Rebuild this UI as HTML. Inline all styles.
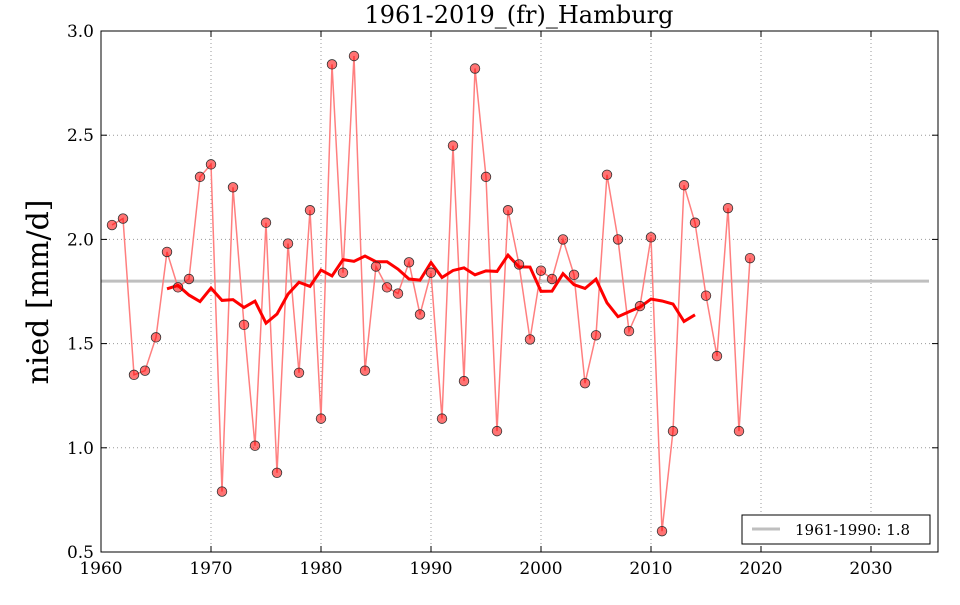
<!DOCTYPE html>
<html><head><meta charset="utf-8"><style>
html,body{margin:0;padding:0;background:#fff;}
svg text{font-family:"DejaVu Serif","Liberation Serif",serif;}
</style></head><body>
<svg id="s" width="960" height="600" xmlns="http://www.w3.org/2000/svg"></svg>
<script>
const d=[2.069,2.10,1.35,1.37,1.53,1.94,1.77,1.81,2.30,2.36,0.79,2.25,1.59,1.01,2.08,0.88,1.98,1.36,2.14,1.14,2.84,1.84,2.88,1.37,1.87,1.77,1.74,1.89,1.64,1.84,1.14,2.45,1.32,2.82,2.30,1.08,2.14,1.88,1.52,1.85,1.81,2.00,1.83,1.31,1.54,2.31,2.00,1.56,1.68,2.01,0.60,1.08,2.26,2.08,1.73,1.44,2.15,1.08,1.91];
const L=101,R=938,T=31,B=552;
const X=y=>L+(y-1960)*11, Y=v=>B-(v-0.5)*208.4;
let s='';
// grid
for(let y=1970;y<=2030;y+=10)s+=`<line x1="${X(y)}" y1="${T}" x2="${X(y)}" y2="${B}" stroke="#999" stroke-dasharray="1,3"/>`;
for(let v=1;v<=2.5;v+=0.5)s+=`<line x1="${L}" y1="${Y(v)}" x2="${R}" y2="${Y(v)}" stroke="#999" stroke-dasharray="1,3"/>`;
s+=`<line x1="${L}" y1="${Y(1.8)}" x2="${929}" y2="${Y(1.8)}" stroke="#bfbfbf" stroke-width="3"/>`;
let p=d.map((v,i)=>`${X(1961+i)},${Y(v)}`).join(' ');
s+=`<polyline points="${p}" fill="none" stroke="#ff7f7f" stroke-width="1.5"/>`;
let m=[];for(let i=5;i<d.length-5;i++){let a=0;for(let k=-5;k<=5;k++)a+=d[i+k];m.push(`${X(1961+i)},${Y(a/11)}`);}
s+=`<polyline points="${m.join(' ')}" fill="none" stroke="#f00" stroke-width="3"/>`;
d.forEach((v,i)=>s+=`<circle cx="${X(1961+i)}" cy="${Y(v)}" r="4.8" fill="rgba(255,0,0,0.55)" stroke="#333" stroke-width="0.8"/>`);
s+=`<rect x="${L}" y="${T}" width="${R-L}" height="${B-T}" fill="none" stroke="#000" stroke-width="1"/>`;
for(let y=1960;y<=2030;y+=10){s+=`<line x1="${X(y)}" y1="${B}" x2="${X(y)}" y2="${B-6}" stroke="#000"/><line x1="${X(y)}" y1="${T}" x2="${X(y)}" y2="${T+6}" stroke="#000"/><text x="${X(y)}" y="${B+22}" font-size="17" text-anchor="middle">${y}</text>`;}
for(let v=0.5;v<=3.001;v+=0.5){s+=`<line x1="${L}" y1="${Y(v)}" x2="${L+6}" y2="${Y(v)}" stroke="#000"/><line x1="${R}" y1="${Y(v)}" x2="${R-6}" y2="${Y(v)}" stroke="#000"/><text x="${L-7}" y="${Y(v)+6}" font-size="17" text-anchor="end">${v.toFixed(1)}</text>`;}
s+=`<text x="519" y="23" font-size="24" text-anchor="middle">1961-2019_(fr)_Hamburg</text>`;
s+=`<text transform="translate(48,292) rotate(-90)" font-size="30" text-anchor="middle">nied [mm/d]</text>`;
s+=`<rect x="742" y="515" width="188" height="29" fill="#fff" stroke="#000"/><line x1="752" y1="529" x2="780" y2="529" stroke="#bfbfbf" stroke-width="3"/><text x="795" y="535" font-size="15">1961-1990: 1.8</text>`;
document.getElementById('s').innerHTML=s;
</script>
</body></html>
